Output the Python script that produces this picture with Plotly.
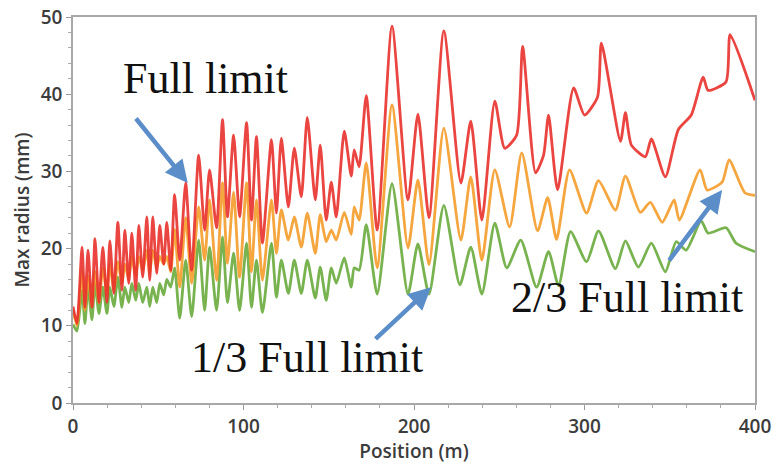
import plotly.graph_objects as go

# Positions (m) shared by the three curves up to ~218 m
pos_left = [0.0, 2.3, 5.3, 7.0, 8.8, 11.1, 12.9, 15.2, 17.5, 19.9, 21.6, 24.0, 26.3, 28.7,
            30.4, 32.7, 34.5, 36.8, 38.6, 40.9, 43.3, 45.0, 46.8, 49.1, 50.9, 53.2, 55.0,
            57.3, 59.6, 62.6, 66.1, 69.6, 73.7, 77.2, 80.1, 84.2, 87.7, 90.6, 94.2, 97.7,
            101.8, 104.7, 107.6, 111.1, 116.4, 119.3, 122.2, 126.3, 129.8, 133.9, 137.4,
            142.1, 145.0, 148.5, 151.5, 154.4, 159.1, 163.2, 164.9, 167.8, 172.0, 178.4,
            187.1, 196.5, 202.3, 208.8]

full_left = [12.5, 10.3, 20.2, 12.4, 19.8, 12.4, 21.3, 13.0, 20.2, 13.0, 21.0, 14.2, 23.4, 14.6,
             22.4, 15.5, 22.0, 14.6, 23.0, 16.3, 24.1, 15.9, 24.1, 16.8, 23.0, 18.0, 23.4,
             17.2, 27.0, 18.5, 28.5, 17.2, 32.1, 22.4, 30.2, 22.7, 36.7, 24.1, 34.7, 24.1,
             36.3, 23.7, 34.5, 20.7, 34.1, 24.6, 34.3, 25.4, 33.0, 26.7, 37.0,
             26.3, 33.4, 23.7, 28.6, 24.1, 35.2, 29.4, 32.8, 30.6, 39.8, 22.4,
             48.8, 26.3, 37.4, 24.0]

two_thirds_left = [12.0, 10.0, 17.0, 12.0, 16.5, 12.5, 17.0, 13.0, 17.5, 14.0, 18.0, 14.5, 18.3, 15.5,
                   18.0, 16.0, 19.0, 16.5, 19.0, 17.2, 19.8, 16.8, 19.8, 17.5, 19.0, 18.0, 19.0,
                   17.0, 22.5, 15.0, 24.0, 15.5, 25.4, 18.5, 26.3, 15.9, 28.5, 18.1, 27.3, 16.3,
                   28.5, 17.0, 26.3, 15.9, 26.3, 19.4, 25.0, 21.1, 24.1, 20.2, 24.6,
                   19.4, 24.4, 20.9, 22.4, 21.1, 24.7, 21.8, 25.4, 23.7, 31.1, 17.5,
                   38.6, 20.1, 28.9, 17.9]

one_third_left = [10.2, 9.3, 14.6, 10.3, 15.0, 10.8, 15.5, 11.6, 15.0, 11.6, 15.0, 12.5, 16.3, 12.4,
                  15.0, 13.0, 15.5, 13.3, 15.5, 13.0, 15.0, 12.5, 15.0, 13.0, 15.5, 14.0, 16.0,
                  15.0, 17.5, 11.0, 18.5, 11.2, 21.1, 12.0, 20.2, 12.0, 21.5, 13.0, 19.4, 12.0,
                  20.7, 12.4, 18.5, 11.7, 20.7, 13.7, 18.5, 14.2, 18.5, 14.2, 18.5,
                  13.6, 17.6, 13.3, 17.5, 15.5, 18.8, 15.0, 17.5, 17.2, 23.1, 14.1,
                  28.4, 14.1, 20.6, 14.1]

# Right part, each curve has its own turning points
full_pos_right = [217.5, 227.5, 233.3, 239.8, 247.4, 253.2, 260.2, 263.7, 271.3, 276.0, 278.9,
                  284.2, 293.6, 300.0, 307.6, 309.9, 321.1, 324.0, 327.5, 335.7, 339.2, 347.4,
                  355.0, 362.6, 369.6, 372.5, 383.0, 385.4, 400.0]
full_right = [48.2, 28.5, 36.5, 23.7, 39.1, 33.0, 34.7, 46.2, 29.8, 32.1, 37.3,
              27.6, 40.8, 37.3, 39.6, 46.6, 33.9, 37.6, 33.4, 31.9, 34.2, 29.3,
              35.4, 37.3, 42.2, 40.5, 41.6, 47.7, 39.2]

two_thirds_pos_right = [217.5, 227.5, 233.3, 239.8, 247.4, 256.1, 263.2, 272.5, 278.4, 283.6,
                        291.2, 301.2, 308.2, 318.1, 324.0, 332.7, 338.6, 345.6, 352.6, 355.6,
                        367.8, 371.9, 380.7, 384.8, 394.2, 400.0]
two_thirds_right = [35.6, 21.1, 29.3, 18.5, 30.2, 22.8, 32.4, 22.3, 26.6, 21.2,
                    30.2, 24.6, 28.8, 25.0, 29.4, 24.7, 26.0, 23.4, 26.3, 23.7,
                    30.2, 27.6, 28.6, 31.5, 27.2, 26.9]

one_third_pos_right = [217.5, 226.9, 233.3, 239.8, 247.4, 254.4, 262.6, 271.9, 278.9, 284.8,
                       291.8, 301.2, 308.2, 318.1, 324.0, 331.6, 339.2, 347.4, 353.8, 359.6,
                       368.4, 372.5, 383.0, 388.9, 400.0]
one_third_right = [25.6, 15.3, 20.2, 14.1, 23.3, 17.5, 21.1, 15.0, 19.6, 15.2,
                   22.2, 18.3, 22.3, 17.4, 21.0, 17.6, 20.7, 17.0, 20.9, 19.8,
                   23.6, 22.0, 22.7, 20.7, 19.6]

x_ticks = [0, 100, 200, 300, 400]
y_ticks = [0, 10, 20, 30, 40, 50]

series = [
    ('1/3 Full limit', pos_left + one_third_pos_right, one_third_left + one_third_right, '#6aab3e'),
    ('2/3 Full limit', pos_left + two_thirds_pos_right, two_thirds_left + two_thirds_right, '#f49d2a'),
    ('Full limit', pos_left + full_pos_right, full_left + full_right, '#e8312c'),
]

fig = go.Figure()
for name, xs, ys, color in series:
    fig.add_trace(go.Scatter(x=xs, y=ys, mode='lines', name=name,
                             line=dict(color=color, width=2.8, shape='spline', smoothing=0.6),
                             opacity=0.9))

axis_font = dict(family='Open Sans', size=19, color='#3c3c3c', weight=600)
title_font = dict(family='Open Sans', size=19, color='#3c3c3c', weight=600)
fig.update_xaxes(range=[0, 400], tickvals=x_ticks, ticks='outside', ticklen=5, tickcolor='#999',
                 showline=True, linecolor='#a8a8a8', linewidth=1.5, mirror=True, showgrid=False,
                 zeroline=False, tickfont=axis_font, automargin=False,
                 minor=dict(dtick=20, ticks='outside', ticklen=3, tickcolor='#aaa'),
                 title=dict(text='Position (m)', font=title_font, standoff=4))
fig.update_yaxes(range=[0, 50], tickvals=y_ticks, ticks='outside', ticklen=5, tickcolor='#999',
                 showline=True, linecolor='#a8a8a8', linewidth=1.5, mirror=True, showgrid=False,
                 zeroline=False, tickfont=axis_font, automargin=False,
                 minor=dict(dtick=2, ticks='outside', ticklen=3, tickcolor='#aaa'),
                 title=dict(text='Max radius (mm)', font=title_font, standoff=6))

hand = dict(family='Liberation Serif', size=44, color='#111')
arrow_color = '#5b8ec9'
fig.add_annotation(x=67.3, y=28.5, ax=-53, ay=-66, showarrow=True, arrowhead=2, arrowsize=1,
                   arrowwidth=4.5, arrowcolor=arrow_color, text='')
fig.add_annotation(x=210, y=15.0, ax=-57, ay=53, showarrow=True, arrowhead=2, arrowsize=1,
                   arrowwidth=4.5, arrowcolor=arrow_color, text='')
fig.add_annotation(x=380.7, y=27.6, ax=-54, ay=72, showarrow=True, arrowhead=2, arrowsize=1,
                   arrowwidth=4.5, arrowcolor=arrow_color, text='')
fig.add_annotation(x=78, y=42, text='Full limit', showarrow=False, font=hand)
fig.add_annotation(x=137, y=5.9, text='1/3 Full limit', showarrow=False, font=hand)
fig.add_annotation(x=325, y=13.7, text='2/3 Full limit', showarrow=False, font=hand)

fig.update_layout(width=773, height=464, margin=dict(l=73, r=18, t=17, b=61),
                  paper_bgcolor='white', plot_bgcolor='white', showlegend=False)
fig.write_html('out.html', config={'displayModeBar': False},
               post_script="document.body.style.margin='0';")
